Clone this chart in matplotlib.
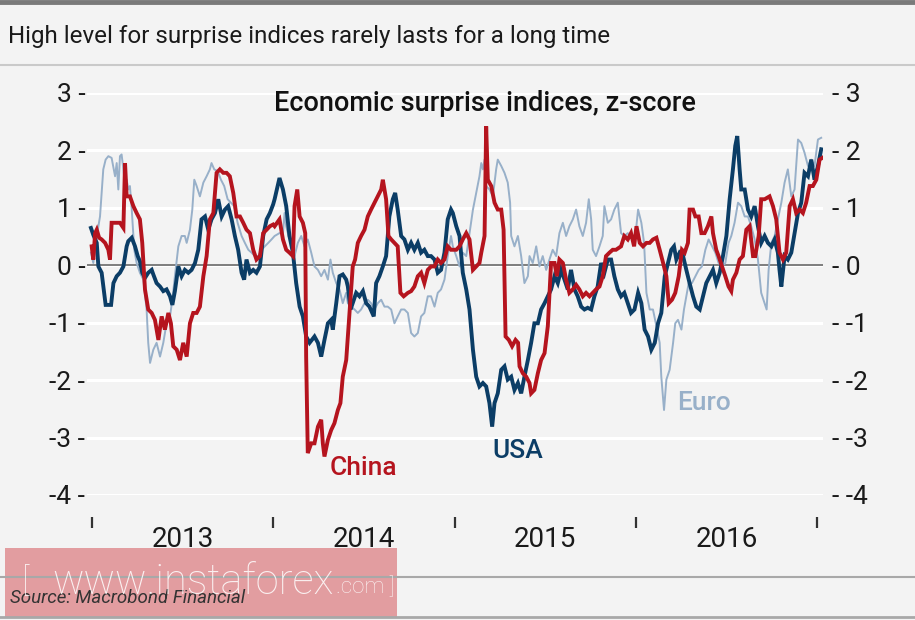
import matplotlib.pyplot as plt
from matplotlib.patches import Rectangle
from matplotlib.lines import Line2D

# USA surprise index (decimal year, z-score)
usa_x = [2012.994, 2013.007, 2013.026, 2013.035, 2013.053, 2013.075, 2013.105, 2013.118, 2013.136, 2013.154,
         2013.173, 2013.191, 2013.200, 2013.219, 2013.237, 2013.252, 2013.264, 2013.277, 2013.292, 2013.310,
         2013.329, 2013.338, 2013.356, 2013.375, 2013.393, 2013.411, 2013.430, 2013.443, 2013.457, 2013.476,
         2013.494, 2013.512, 2013.531, 2013.549, 2013.568, 2013.586, 2013.604, 2013.623, 2013.641, 2013.659,
         2013.678, 2013.696, 2013.715, 2013.733, 2013.751, 2013.770, 2013.788, 2013.806, 2013.825, 2013.839,
         2013.852, 2013.871, 2013.889, 2013.907, 2013.926, 2013.944, 2013.963, 2013.981, 2013.999,
         2014.007, 2014.034, 2014.053, 2014.071, 2014.089, 2014.108, 2014.126, 2014.145, 2014.163, 2014.181,
         2014.200, 2014.227, 2014.246, 2014.264, 2014.282, 2014.301, 2014.319, 2014.328, 2014.347, 2014.365,
         2014.383, 2014.402, 2014.411, 2014.426, 2014.438, 2014.457, 2014.475, 2014.494, 2014.512, 2014.530,
         2014.554, 2014.567, 2014.585, 2014.604, 2014.622, 2014.640, 2014.659, 2014.672, 2014.686, 2014.705,
         2014.723, 2014.742, 2014.760, 2014.778, 2014.797, 2014.815, 2014.833, 2014.852, 2014.870, 2014.889,
         2014.907, 2014.925, 2014.944, 2014.962, 2014.980,
         2014.990, 2015.009, 2015.027, 2015.045, 2015.064, 2015.082, 2015.101, 2015.119, 2015.137, 2015.156,
         2015.174, 2015.192, 2015.207, 2015.220, 2015.238, 2015.257, 2015.275, 2015.293, 2015.312, 2015.330,
         2015.349, 2015.367, 2015.385, 2015.404, 2015.422, 2015.440, 2015.459, 2015.477, 2015.496, 2015.514,
         2015.532, 2015.551, 2015.569, 2015.587, 2015.606, 2015.624, 2015.642, 2015.661, 2015.679, 2015.698,
         2015.716, 2015.734, 2015.753, 2015.771, 2015.789, 2015.808, 2015.826, 2015.845, 2015.863, 2015.881,
         2015.900, 2015.918, 2015.936, 2015.955, 2015.973, 2015.992,
         2016.012, 2016.030, 2016.048, 2016.067, 2016.085, 2016.104, 2016.122, 2016.140, 2016.159, 2016.177,
         2016.195, 2016.210, 2016.223, 2016.241, 2016.260, 2016.278, 2016.296, 2016.315, 2016.333, 2016.352,
         2016.370, 2016.388, 2016.407, 2016.425, 2016.443, 2016.462, 2016.480, 2016.499, 2016.517, 2016.535,
         2016.548, 2016.559, 2016.572, 2016.581, 2016.600, 2016.618, 2016.636, 2016.655, 2016.673, 2016.691,
         2016.710, 2016.728, 2016.747, 2016.765, 2016.783, 2016.792, 2016.802, 2016.820, 2016.838, 2016.857,
         2016.875, 2016.894, 2016.912, 2016.930, 2016.949, 2016.967, 2016.985, 2017.004, 2017.022]
usa_y = [0.65, 0.53, 0.39, -0.02, -0.13, -0.69, -0.69, -0.31, -0.19, -0.13,
         -0.02, 0.33, 0.42, 0.48, 0.33, 0.16, 0.07, -0.13, -0.22, -0.13,
         -0.08, -0.16, -0.31, -0.37, -0.45, -0.42, -0.54, -0.69, -0.45, -0.02,
         -0.19, -0.08, -0.13, -0.08, 0.04, 0.27, 0.80, 0.85, 0.62, 0.80,
         0.91, 1.15, 0.85, 0.97, 1.03, 0.80, 0.51, 0.27, -0.13, -0.25,
         0.10, -0.13, -0.08, -0.13, -0.02, 0.51, 0.80, 0.91, 1.06,
         1.15, 1.52, 1.32, 1.03, 0.51, 0.22, -0.31, -0.72, -0.89, -1.24,
         -1.35, -1.24, -1.35, -1.59, -1.30, -1.01, -0.95, -1.12, -0.66, -0.19,
         -0.16, -0.25, -0.37, -0.77, -0.66, -0.48, -0.54, -0.45, -0.66, -0.72,
         -0.89, -0.31, -0.19, -0.02, 0.16, 0.85, 1.15, 1.26, 0.97, 0.51,
         0.45, 0.27, 0.39, 0.27, 0.39, 0.22, 0.27, 0.16, 0.16, 0.10,
         -0.13, -0.08, 0.22, 0.80, 0.97,
         0.91, 0.68, 0.51, -0.13, -0.42, -0.77, -1.47, -1.94, -2.11, -2.05,
         -2.11, -2.40, -2.81, -2.40, -2.23, -1.82, -1.76, -1.99, -1.94, -2.17,
         -2.05, -2.23, -1.94, -1.65, -1.35, -1.01, -1.01, -0.77, -0.66, -0.54,
         -0.42, -0.19, -0.31, -0.08, -0.25, -0.42, -0.08, -0.42, -0.54, -0.72,
         -0.77, -0.74, -0.77, -0.54, -0.37, 0.04, -0.13, 0.10, 0.10, -0.19,
         -0.42, -0.54, -0.48, -0.66, -0.83, -0.77,
         -0.48, -0.66, -1.12, -1.24, -1.47, -1.35, -1.01, -0.83, -0.19, 0.04,
         0.27, 0.33, 0.10, 0.22, 0.16, -0.08, -0.31, -0.54, -0.72, -0.77,
         -0.54, -0.31, -0.19, -0.08, -0.31, -0.13, 0.16, 0.51, 1.15, 1.67,
         2.08, 2.25, 1.67, 1.32, 1.32, 0.97, 0.85, 1.03, 0.68, 0.39,
         0.51, 0.39, 0.33, 0.45, 0.22, -0.08, -0.37, 0.16, 0.10, 0.22,
         0.56, 0.91, 1.09, 1.61, 1.55, 1.84, 1.49, 1.73, 2.02]

# China surprise index
china_x = [2012.998, 2013.007, 2013.017, 2013.026, 2013.039, 2013.053, 2013.072, 2013.090, 2013.099, 2013.108,
           2013.136, 2013.154, 2013.173, 2013.182, 2013.191, 2013.209, 2013.228, 2013.246, 2013.264, 2013.277,
           2013.292, 2013.310, 2013.329, 2013.347, 2013.366, 2013.384, 2013.402, 2013.421, 2013.435, 2013.448,
           2013.467, 2013.485, 2013.503, 2013.522, 2013.540, 2013.558, 2013.577, 2013.595, 2013.614, 2013.632,
           2013.650, 2013.669, 2013.687, 2013.705, 2013.724, 2013.742, 2013.760, 2013.779, 2013.797, 2013.816,
           2013.834, 2013.852, 2013.871, 2013.889, 2013.907, 2013.926, 2013.944, 2013.963, 2013.981, 2013.999,
           2014.007, 2014.034, 2014.053, 2014.071, 2014.089, 2014.108, 2014.117, 2014.132, 2014.145, 2014.163,
           2014.176, 2014.181, 2014.190, 2014.209, 2014.227, 2014.246, 2014.264, 2014.273, 2014.282, 2014.301,
           2014.319, 2014.337, 2014.356, 2014.370, 2014.383, 2014.402, 2014.420, 2014.438, 2014.451, 2014.466,
           2014.484, 2014.503, 2014.521, 2014.539, 2014.558, 2014.576, 2014.595, 2014.604, 2014.622, 2014.635,
           2014.650, 2014.668, 2014.686, 2014.701, 2014.719, 2014.742, 2014.760, 2014.778, 2014.797, 2014.815,
           2014.833, 2014.852, 2014.870, 2014.889, 2014.907, 2014.925, 2014.944, 2014.962, 2014.980,
           2014.990, 2015.009, 2015.027, 2015.045, 2015.064, 2015.082, 2015.101, 2015.119, 2015.137, 2015.147,
           2015.165, 2015.174, 2015.183, 2015.202, 2015.220, 2015.238, 2015.257, 2015.270, 2015.281, 2015.299,
           2015.317, 2015.336, 2015.350, 2015.358, 2015.376, 2015.395, 2015.413, 2015.422, 2015.440, 2015.459,
           2015.477, 2015.496, 2015.514, 2015.532, 2015.551, 2015.564, 2015.578, 2015.597, 2015.615, 2015.633,
           2015.652, 2015.670, 2015.688, 2015.707, 2015.725, 2015.744, 2015.762, 2015.780, 2015.799, 2015.817,
           2015.835, 2015.854, 2015.872, 2015.890, 2015.918, 2015.936, 2015.955, 2015.973,
           2015.990, 2016.003, 2016.021, 2016.039, 2016.058, 2016.076, 2016.094, 2016.113, 2016.131, 2016.150,
           2016.168, 2016.181, 2016.199, 2016.217, 2016.236, 2016.254, 2016.269, 2016.287, 2016.296, 2016.315,
           2016.328, 2016.346, 2016.361, 2016.379, 2016.397, 2016.416, 2016.425, 2016.443, 2016.456, 2016.475,
           2016.493, 2016.511, 2016.526, 2016.535, 2016.554, 2016.572, 2016.590, 2016.609, 2016.627, 2016.646,
           2016.658, 2016.677, 2016.691, 2016.710, 2016.737, 2016.756, 2016.774, 2016.792, 2016.811, 2016.829,
           2016.848, 2016.866, 2016.884, 2016.903, 2016.921, 2016.939, 2016.958, 2016.976, 2016.995, 2017.013,
           2017.028]
china_y = [0.33, 0.10, 0.56, 0.62, 0.48, 0.45, 0.39, 0.27, 0.10, 0.74,
           0.74, 0.74, 0.65, 1.78, 1.20, 1.20, 1.03, 0.91, 0.80, 0.39,
           -0.42, -0.77, -0.83, -0.95, -1.30, -0.89, -1.12, -0.83, -1.01, -1.41,
           -1.47, -1.65, -1.35, -1.59, -1.01, -0.83, -0.83, -0.72, -0.19, 0.16,
           0.80, 0.91, 1.61, 1.67, 1.61, 1.61, 1.55, 1.26, 0.85, 0.85,
           0.74, 0.62, 0.56, 0.27, 0.10, 0.16, 0.56, 0.62, 0.68, 0.71,
           0.68, 0.80, 0.45, 0.27, 0.22, 0.16, 1.03, 1.32, 0.85, 0.74,
           0.56, -1.59, -3.27, -3.10, -3.10, -2.81, -2.69, -3.10, -3.33, -3.04,
           -2.87, -2.75, -2.52, -2.40, -1.94, -1.65, -0.83, -0.02, 0.10, 0.39,
           0.51, 0.62, 0.85, 0.97, 1.09, 1.20, 1.32, 1.49, 1.15, 0.51,
           0.45, 0.39, 0.33, -0.48, -0.54, -0.48, -0.45, -0.37, -0.19, -0.13,
           -0.31, -0.08, -0.02, -0.02, 0.10, 0.04, 0.10, 0.33, 0.27,
           0.27, 0.27, 0.33, 0.45, 0.56, 0.45, -0.08, -0.02, 0.04, 0.22,
           0.51, 2.42, 1.49, 1.38, 1.09, 0.97, 0.97, 0.62, -1.24, -1.30,
           -1.41, -1.30, -1.35, -1.76, -1.88, -1.94, -2.05, -2.23, -2.17, -1.88,
           -1.65, -1.53, -1.06, 0.04, 0.04, -0.19, 0.10, 0.04, -0.25, -0.48,
           -0.42, -0.34, -0.42, -0.54, -0.48, -0.54, -0.48, -0.42, -0.37, -0.19,
           0.16, 0.22, 0.27, 0.27, 0.33, 0.51, 0.45, 0.56,
           0.33, 0.68, 0.39, 0.33, 0.39, 0.39, 0.45, 0.48, 0.27, 0.04,
           -0.19, -0.66, -0.60, -0.48, -0.19, 0.27, 0.22, 0.39, 0.97, 0.97,
           0.85, 0.85, 0.56, 0.56, 0.68, 0.85, 0.56, 0.27, 0.16, -0.02,
           -0.19, -0.37, -0.45, -0.25, -0.13, 0.10, 0.16, 0.62, 0.68, 0.16,
           0.16, 0.51, 1.15, 1.15, 1.20, 1.03, 0.80, 0.22, 0.10, 0.22,
           1.03, 1.15, 0.91, 0.97, 0.91, 1.09, 1.38, 1.38, 1.49, 1.84,
           1.87]

# Euro area surprise index
euro_x = [2012.994, 2013.007, 2013.026, 2013.044, 2013.062, 2013.075, 2013.090, 2013.108, 2013.127, 2013.136,
          2013.145, 2013.154, 2013.163, 2013.173, 2013.182, 2013.191, 2013.200, 2013.209, 2013.219, 2013.233,
          2013.246, 2013.264, 2013.283, 2013.301, 2013.310, 2013.320, 2013.338, 2013.356, 2013.375, 2013.393,
          2013.411, 2013.430, 2013.443, 2013.457, 2013.476, 2013.494, 2013.512, 2013.522, 2013.540, 2013.553,
          2013.564, 2013.577, 2013.595, 2013.614, 2013.632, 2013.650, 2013.659, 2013.674, 2013.693, 2013.711,
          2013.729, 2013.748, 2013.766, 2013.784, 2013.803, 2013.825, 2013.843, 2013.862, 2013.880, 2013.898,
          2013.917, 2013.935, 2013.953, 2013.972, 2013.990,
          2014.007, 2014.034, 2014.053, 2014.062, 2014.071, 2014.084, 2014.102, 2014.117, 2014.135, 2014.154,
          2014.172, 2014.190, 2014.209, 2014.227, 2014.246, 2014.264, 2014.282, 2014.301, 2014.315, 2014.328,
          2014.347, 2014.365, 2014.383, 2014.402, 2014.411, 2014.429, 2014.448, 2014.466, 2014.484, 2014.503,
          2014.521, 2014.539, 2014.558, 2014.576, 2014.595, 2014.613, 2014.631, 2014.650, 2014.668, 2014.686,
          2014.705, 2014.723, 2014.742, 2014.760, 2014.778, 2014.797, 2014.815, 2014.833, 2014.852, 2014.870,
          2014.889, 2014.907, 2014.925, 2014.944, 2014.962, 2014.980,
          2014.990, 2015.009, 2015.027, 2015.045, 2015.064, 2015.082, 2015.101, 2015.119, 2015.137, 2015.147,
          2015.156, 2015.165, 2015.174, 2015.192, 2015.211, 2015.229, 2015.238, 2015.257, 2015.275, 2015.293,
          2015.306, 2015.312, 2015.330, 2015.349, 2015.367, 2015.385, 2015.404, 2015.413, 2015.431, 2015.450,
          2015.468, 2015.486, 2015.505, 2015.523, 2015.541, 2015.560, 2015.578, 2015.597, 2015.615, 2015.633,
          2015.652, 2015.670, 2015.688, 2015.707, 2015.725, 2015.740, 2015.753, 2015.762, 2015.780, 2015.799,
          2015.817, 2015.826, 2015.845, 2015.863, 2015.881, 2015.900, 2015.918, 2015.936, 2015.955, 2015.973,
          2015.993, 2016.012, 2016.030, 2016.045, 2016.058, 2016.076, 2016.094, 2016.113, 2016.131, 2016.140,
          2016.155, 2016.168, 2016.186, 2016.205, 2016.217, 2016.232, 2016.251, 2016.265, 2016.278, 2016.291,
          2016.309, 2016.328, 2016.346, 2016.364, 2016.383, 2016.401, 2016.420, 2016.438, 2016.456, 2016.475,
          2016.493, 2016.511, 2016.526, 2016.544, 2016.563, 2016.581, 2016.600, 2016.618, 2016.636, 2016.655,
          2016.673, 2016.691, 2016.710, 2016.721, 2016.732, 2016.747, 2016.765, 2016.783, 2016.802, 2016.820,
          2016.838, 2016.857, 2016.875, 2016.894, 2016.912, 2016.930, 2016.949, 2016.967, 2016.985, 2017.004,
          2017.022]
euro_y = [0.22, 0.04, 0.51, 0.85, 1.67, 1.84, 1.90, 1.87, 1.55, 1.78,
          1.32, 1.90, 1.93, 1.67, 1.38, 1.49, 1.32, 1.38, 0.97, 0.27,
          0.04, -0.13, -0.25, -0.77, -1.35, -1.70, -1.47, -1.35, -1.59, -1.35,
          -1.01, -0.89, -0.60, -0.19, 0.33, 0.51, 0.51, 0.39, 0.62, 0.97,
          1.49, 1.38, 1.20, 1.44, 1.55, 1.67, 1.78, 1.67, 1.64, 1.49,
          1.38, 1.15, 1.09, 1.03, 0.74, 0.51, 0.39, 0.27, 0.22, 0.16,
          0.16, 0.27, 0.33, 0.39, 0.45,
          0.51, 0.56, 0.56, 0.91, 0.68, 0.51, 0.39, 0.16, 0.39, 0.51,
          0.33, 0.45, 0.22, -0.02, -0.08, -0.19, -0.08, -0.25, 0.10, -0.13,
          -0.31, -0.42, -0.66, -0.48, -0.66, -0.72, -0.77, -0.83, -0.77, -0.66,
          -0.60, -0.66, -0.77, -0.66, -0.60, -0.72, -0.72, -0.77, -1.01, -0.89,
          -0.77, -0.77, -0.83, -1.18, -1.24, -1.18, -0.89, -0.83, -0.54, -0.54,
          -0.72, -0.48, -0.42, -0.25, 0.16, 0.51,
          0.33, 0.16, -0.02, 0.22, 0.16, 0.56, 0.97, 1.26, 1.55, 1.78,
          1.67, 1.84, 1.38, 1.32, 1.20, 1.67, 1.84, 1.73, 1.61, 1.44,
          1.09, 0.51, 0.33, 0.51, 0.16, -0.31, -0.19, 0.16, 0.04, 0.33,
          -0.02, 0.16, -0.08, 0.10, 0.27, 0.16, 0.56, 0.74, 0.51, 0.68,
          0.80, 0.97, 0.68, 0.51, 0.74, 1.15, 0.80, 0.27, 0.16, 0.33,
          0.51, 1.03, 0.74, 0.80, 0.97, 1.09, 0.56, 0.51, 0.56, 0.51,
          0.39, 0.97, 0.74, 0.39, -0.48, -0.77, -0.77, -1.06, -1.35, -1.94,
          -2.52, -1.99, -1.82, -1.35, -1.01, -0.95, -1.12, -0.77, -0.54, -0.31,
          -0.31, -0.19, -0.08, -0.02, 0.27, 0.45, 0.33, 0.22, 0.04, -0.02,
          0.04, 0.39, 0.51, 0.74, 1.09, 1.03, 0.85, 0.85, 0.68, 0.45,
          0.10, -0.48, -0.66, -0.77, -0.08, 0.39, 0.51, 0.80, 1.09, 1.44,
          1.67, 1.20, 1.32, 2.19, 2.13, 1.96, 1.73, 1.84, 1.73, 2.19,
          2.22]

years = [2013, 2014, 2015, 2016]
y_ticks = [3, 2, 1, 0, -1, -2, -3, -4]

bg = '#f3f3f3'
c_usa = '#0b3d66'
c_china = '#b5141e'
c_euro = '#98b0c9'

fig = plt.figure(figsize=(9.15, 6.2), dpi=100, facecolor=bg)

# frame lines of the panel
fig.add_artist(Line2D([0, 1], [0.997, 0.997], color='#7a7a7a', lw=3.5))
fig.add_artist(Line2D([0, 1], [1 - 65 / 620, 1 - 65 / 620], color='#c9c9c9', lw=1.5))
fig.add_artist(Line2D([0, 1], [1 - 577 / 620, 1 - 577 / 620], color='#a8a8a8', lw=1.5))
fig.add_artist(Line2D([0, 1], [1 - 617 / 620, 1 - 617 / 620], color='#a8a8a8', lw=2))

fig.text(8 / 915, 1 - 37 / 620, 'High level for surprise indices rarely lasts for a long time',
         fontsize=17.4, family='Roboto', color='#1a1a1a', va='center', ha='left')

ax = fig.add_axes([86.6 / 915, 1 - 495 / 620, 736.6 / 915, 402 / 620])
ax.set_facecolor(bg)
ax.set_xlim(2012.97, 2017.033)
ax.set_ylim(-4, 3)

for v in y_ticks:
    ax.axhline(v, color='white', lw=2.2, zorder=1)
ax.axhline(0, color='#5a5a5a', lw=1.1, zorder=2)

ax.plot(euro_x, euro_y, color=c_euro, lw=1.4, zorder=3)
ax.plot(usa_x, usa_y, color=c_usa, lw=2.8, zorder=4, solid_joinstyle='miter')
ax.plot(china_x, china_y, color=c_china, lw=2.8, zorder=5, solid_joinstyle='miter')

for s in ax.spines.values():
    s.set_visible(False)
ax.spines['bottom'].set_position(('outward', 16))

ax.set_yticks(y_ticks)
ax.set_yticklabels([f'{v} -' for v in y_ticks])
ax.tick_params(axis='y', length=0, pad=1, labelsize=19, labelcolor='#1a1a1a')
for lab in ax.get_yticklabels():
    lab.set_family('Roboto')
sec = ax.secondary_yaxis('right')
sec.set_yticks(y_ticks)
sec.set_yticklabels([f'- {v}' for v in y_ticks])
sec.tick_params(length=0, pad=6, labelsize=19, labelcolor='#1a1a1a')
for lab in sec.get_yticklabels():
    lab.set_family('Roboto')
sec.spines['right'].set_visible(False)

ax.set_xticks(years + [2017])
ax.set_xticklabels([])
ax.tick_params(axis='x', which='major', length=8, width=1.6, color='#333333', direction='out')
ax.set_xticks([y + 0.5 for y in years], minor=True)
ax.set_xticklabels([str(y) for y in years], minor=True)
ax.tick_params(axis='x', which='minor', length=0, pad=6, labelsize=20, labelcolor='#1a1a1a')
for lab in ax.get_xticklabels(minor=True):
    lab.set_family('Roboto')

ax.text(0.541, 0.975, 'Economic surprise indices, z-score', transform=ax.transAxes,
        ha='center', va='center', fontsize=19.5, family='Roboto', fontweight='medium', color='#111111', zorder=6)

ax.text(2014.31, -3.53, 'China', color=c_china, fontsize=19, family='Roboto', fontweight='medium',
        va='center', zorder=6)
ax.text(2015.21, -3.23, 'USA', color=c_usa, fontsize=19, family='Roboto', fontweight='medium',
        va='center', zorder=6)
ax.text(2016.225, -2.4, 'Euro', color=c_euro, fontsize=19, family='Roboto', fontweight='medium',
        va='center', zorder=6)

# source note and watermark
fig.text(10 / 915, 1 - 598 / 620, 'Source: Macrobond Financial', fontsize=13.5, style='italic',
         family='Roboto', color='#333333', va='center')
fig.add_artist(Rectangle((5 / 915, 1 - 617 / 620), 392 / 915, 69 / 620, transform=fig.transFigure,
                         facecolor='#d2494e', alpha=0.5, edgecolor='none'))
fig.text(22 / 915, 1 - 582 / 620, '[', fontsize=24, family='Roboto', color='white', alpha=0.85,
         va='center', fontweight='light')
fig.text(52 / 915, 1 - 582 / 620, 'www.instaforex', fontsize=30, family='Roboto', color='white',
         alpha=0.85, va='center', fontweight='light')
fig.text(336 / 915, 1 - 587 / 620, '.com ]', fontsize=16, family='Roboto', color='white',
         alpha=0.85, va='center', fontweight='light')

fig.savefig('out.png', dpi=100, facecolor=bg)
